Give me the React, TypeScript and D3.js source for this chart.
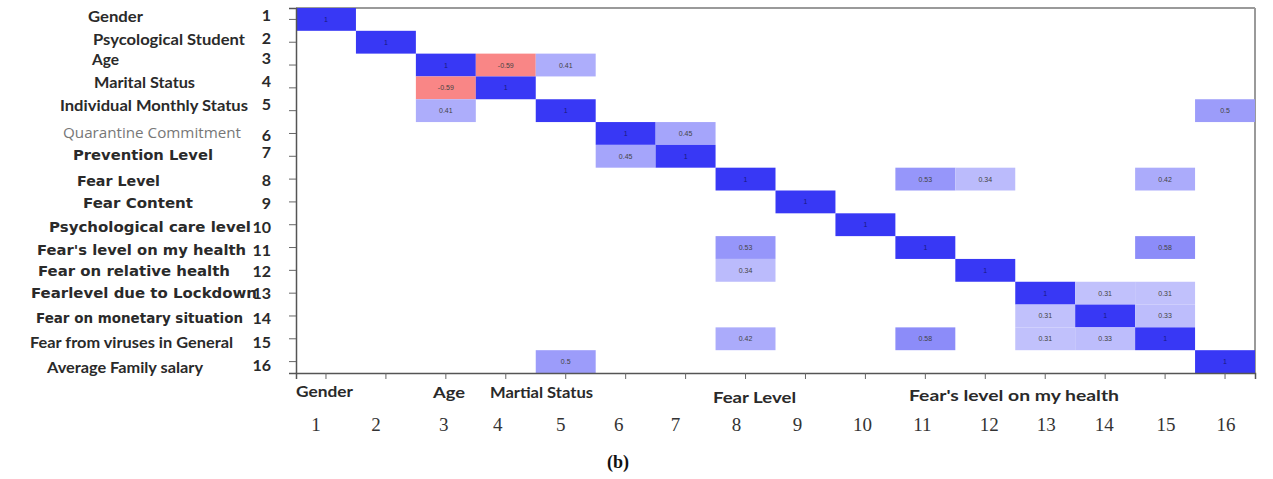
import React, { useEffect, useRef } from "react";
import * as d3 from "d3";

// variable names (rows / columns 1..16)
const variables = [
  "Gender",
  "Psycological Student",
  "Age",
  "Marital Status",
  "Individual Monthly Status",
  "Quarantine Commitment",
  "Prevention Level",
  "Fear Level",
  "Fear Content",
  "Psychological care level",
  "Fear's level on my health",
  "Fear on relative health",
  "Fearlevel due to Lockdown",
  "Fear on monetary situation",
  "Fear from viruses in General",
  "Average Family salary",
];
const indices = d3.range(1, 17);

// significant correlations: row, column, value
const cellRows = [1, 2, 3, 3, 3, 4, 4, 5, 5, 5, 6, 6, 7, 7, 8, 8, 8, 8, 9, 10, 11, 11, 11, 12, 12, 13, 13, 13, 14, 14, 14, 15, 15, 15, 15, 15, 16, 16];
const cellCols = [1, 2, 3, 4, 5, 3, 4, 3, 5, 16, 6, 7, 6, 7, 8, 11, 12, 15, 9, 10, 8, 11, 15, 8, 12, 13, 14, 15, 13, 14, 15, 8, 11, 13, 14, 15, 5, 16];
const cellValues = [1, 1, 1, -0.59, 0.41, -0.59, 1, 0.41, 1, 0.5, 1, 0.45, 0.45, 1, 1, 0.53, 0.34, 0.42, 1, 1, 0.53, 1, 0.58, 0.34, 1, 1, 0.31, 0.31, 0.31, 1, 0.33, 0.42, 0.58, 0.31, 0.33, 1, 0.5, 1];

// labels under the x axis
const xNames = ["Gender", "Age", "Martial Status", "Fear Level", "Fear's level on my health"];

const W = 1273;
const H = 479;

export default function App() {
  const ref = useRef<SVGSVGElement>(null);

  useEffect(() => {
    const svg = d3.select(ref.current);
    svg.selectAll("*").remove();

    const left = 296, right = 1255, top = 8, bottom = 373;

    const x = d3.scaleBand<number>().domain(indices).range([left, right]);
    const y = d3.scaleBand<number>().domain(indices).range([top, bottom]);
    const color = d3
      .scaleLinear<string>()
      .domain([-1, 0, 1])
      .range(["rgb(245,50,50)", "rgb(255,255,255)", "rgb(56,56,245)"])
      .clamp(true);

    const cells = cellRows.map((r, i) => ({ r, c: cellCols[i], v: cellValues[i] }));

    // frame: grey top / right border
    svg.append("line").attr("x1", left).attr("x2", right).attr("y1", top).attr("y2", top)
      .attr("stroke", "#9a9a9a").attr("stroke-width", 2);
    svg.append("line").attr("x1", right).attr("x2", right).attr("y1", top).attr("y2", bottom)
      .attr("stroke", "#9a9a9a").attr("stroke-width", 2);

    const g = svg.append("g");
    g.selectAll("rect")
      .data(cells)
      .enter()
      .append("rect")
      .attr("x", (d) => x(d.c)!)
      .attr("y", (d) => y(d.r)!)
      .attr("width", x.bandwidth())
      .attr("height", y.bandwidth())
      .attr("fill", (d) => color(d.v));

    g.selectAll("text")
      .data(cells)
      .enter()
      .append("text")
      .attr("x", (d) => x(d.c)! + x.bandwidth() / 2)
      .attr("y", (d) => y(d.r)! + y.bandwidth() / 2 + 2.5)
      .attr("text-anchor", "middle")
      .attr("font-family", "Liberation Sans, Arial, sans-serif")
      .attr("font-size", 7)
      .attr("fill", (d) => (d.v === 1 ? "#1a1a80" : "#444"))
      .text((d) => String(d.v));

    // left axis
    const yAxis = d3.axisLeft(y).tickSize(7).tickFormat(() => "");
    const ya = svg.append("g").attr("transform", `translate(${left},0)`).call(yAxis);
    ya.select(".domain").attr("stroke", "#555").attr("stroke-width", 1.5);
    ya.selectAll(".tick line").attr("stroke", "#666");

    // bottom axis
    const xAxis = d3.axisBottom(x).tickSize(6).tickFormat(() => "");
    const xa = svg.append("g").attr("transform", `translate(0,${bottom})`).call(xAxis);
    xa.select(".domain").attr("stroke", "#555").attr("stroke-width", 1.5);
    xa.selectAll(".tick line").attr("stroke", "#666");

    // row labels (pasted-in text, slightly irregular)
    const nameX = [88, 93, 92, 94, 60, 63, 73, 77, 83, 49, 37, 38, 31, 36, 30, 47];
    const nameW = [55, 152, 27, 101, 188, 178, 140, 83, 110, 202, 209, 192, 226, 207, 203, 156];
    const nameY = [17, 40, 60, 83, 106, 133, 155, 181, 203, 227, 250, 271, 293, 318, 343, 368];
    const numY = [15, 38, 58, 81, 104, 135, 152, 180, 203, 227, 250, 271, 293, 318, 342, 365];
    const wide = new Set([6, 7, 8, 9, 10, 11, 12, 13]);
    indices.forEach((idx, i) => {
      const t = svg.append("text")
        .attr("x", nameX[i])
        .attr("y", nameY[i] + 5)
        .attr("fill", "#2a2a2a")
        .attr("textLength", nameW[i])
        .attr("lengthAdjust", "spacingAndGlyphs")
        .text(variables[i]);
      if (i === 5) {
        t.attr("font-family", "Open Sans, sans-serif").attr("font-size", 14).attr("fill", "#777");
      } else if (wide.has(i)) {
        t.attr("font-family", "DejaVu Sans, sans-serif").attr("font-weight", "bold").attr("font-size", 14);
      } else {
        t.attr("font-family", "Lato, sans-serif").attr("font-weight", "bold").attr("font-size", 15);
      }
      svg.append("text")
        .attr("x", 271)
        .attr("y", numY[i] + 5.5)
        .attr("text-anchor", "end")
        .attr("font-family", "Lato, sans-serif")
        .attr("font-weight", "bold")
        .attr("font-size", 16)
        .attr("fill", "#2a2a2a")
        .text(String(idx));
    });

    // names under the x axis
    const bx = [296, 433, 490, 713, 909];
    const bw = [57, 32, 103, 83, 210];
    const by = [392, 393, 393, 398, 396];
    xNames.forEach((n, i) => {
      svg.append("text")
        .attr("x", bx[i])
        .attr("y", by[i] + 5)
        .attr("textLength", bw[i])
        .attr("lengthAdjust", "spacingAndGlyphs")
        .attr("font-family", "Lato, sans-serif")
        .attr("font-weight", "bold")
        .attr("font-size", 15)
        .attr("fill", "#2a2a2a")
        .text(n);
    });

    // serif column numbers (hand placed in the original)
    const numShift = [-10, -10, -2, -8, -5, -7, -10, -9, -8, -3, -3, 4, 1, -1, 1, 1];
    svg.append("g")
      .selectAll("text")
      .data(indices)
      .enter()
      .append("text")
      .attr("x", (d, i) => x(d)! + x.bandwidth() / 2 + numShift[i])
      .attr("y", 431)
      .attr("text-anchor", "middle")
      .attr("font-family", "Liberation Serif, serif")
      .attr("font-size", 19)
      .attr("fill", "#333")
      .text((d) => String(d));

    svg.append("text")
      .attr("x", 618)
      .attr("y", 468)
      .attr("text-anchor", "middle")
      .attr("font-family", "Liberation Serif, serif")
      .attr("font-weight", "bold")
      .attr("font-size", 18)
      .attr("fill", "#111")
      .text("(b)");
  }, []);

  return (
    <svg
      ref={ref}
      width={W}
      height={H}
      style={{ position: "absolute", left: 0, top: 0, background: "#fff" }}
    />
  );
}
